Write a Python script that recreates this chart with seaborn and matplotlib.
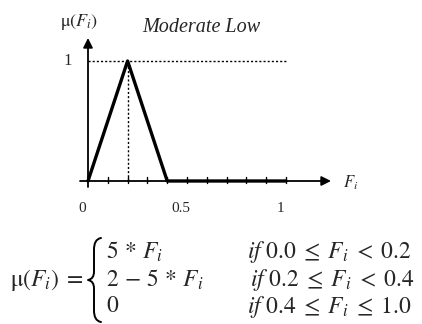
import numpy as np
import pandas as pd
import matplotlib
matplotlib.use("Agg")
import matplotlib.pyplot as plt
import matplotlib.transforms as mtransforms
from matplotlib.path import Path
from matplotlib.patches import PathPatch
import seaborn as sns

# Membership function "Moderate Low": breakpoints and grades
f_points = [0.0, 0.2, 0.4, 1.0]
mu_points = [0.0, 1.0, 0.0, 0.0]
tick_values = [0.0, 0.5, 1.0]
tick_labels = ["0", "0.5", "1"]
minor_ticks = [0.1, 0.2, 0.3, 0.4, 0.5, 0.6, 0.7, 0.8, 0.9, 1.0]
peak_grade = 1.0
peak_label = "1"
set_name = "Moderate Low"
formula_cases = [r"$5\, *\, F_i$", r"$2\, -\, 5\, *\, F_i$", r"$0$"]
formula_conditions = [r"$if\ 0.0\; \leq\; F_i\; <\; 0.2$",
                      r"$if\ 0.2\; \leq\; F_i\; <\; 0.4$",
                      r"$if\ 0.4\; \leq\; F_i\; \leq\; 1.0$"]

sns.set_theme(style="white")
plt.rcParams["font.family"] = ["Liberation Serif", "DejaVu Serif"]
plt.rcParams["mathtext.fontset"] = "stix"

W, H = 422, 324
fig = plt.figure(figsize=(W / 100, H / 100), dpi=100)
fig.patch.set_facecolor("white")

# Axes covering the whole canvas; limits chosen so that F=0..1 spans the drawn axis
ax = fig.add_axes([0, 0, 1, 1])
x0_px, x1_px = 88.0, 286.0
y0_px, y1_px = 181.0, 61.0
sx = (x1_px - x0_px)
sy = (y0_px - y1_px)
ax.set_xlim(-x0_px / sx, (W - x0_px) / sx)
ax.set_ylim(-(H - y0_px) / sy, y0_px / sy)
ax.axis("off")


def px(x, r):
    """Pixel position (column, row from top) to data coordinates."""
    return (x - x0_px) / sx, (y0_px - r) / sy


df = pd.DataFrame({"F": f_points, "mu": mu_points})

# Axes with arrowheads
ax.annotate("", xy=px(331, 181), xytext=px(80, 181),
            arrowprops=dict(arrowstyle="-|>", color="black", lw=1.3,
                            mutation_scale=14, shrinkA=0, shrinkB=0))
ax.annotate("", xy=px(88, 38), xytext=px(88, 187),
            arrowprops=dict(arrowstyle="-|>", color="black", lw=1.3,
                            mutation_scale=14, shrinkA=0, shrinkB=0))

# Small tick marks along the F axis
for t in minor_ticks:
    ax.plot([t, t], [-0.02, 0.03], color="black", lw=1.0)

# Dotted guides to the peak
ax.plot([0, 1.0], [peak_grade, peak_grade], color="black", lw=1.0,
        linestyle=(0, (1.5, 1.5)))
ax.plot([f_points[1], f_points[1]], [0, peak_grade], color="black", lw=1.0,
        linestyle=(0, (1.5, 1.5)))

# Membership function
sns.lineplot(data=df, x="F", y="mu", ax=ax, color="black", lw=2.4,
             sort=False, estimator=None)

# Labels
ax.text(*px(79, 22), r"$\mathrm{\mu}(F_i)$", fontsize=13, ha="center", va="center")
ax.text(*px(201, 28), set_name, fontsize=14.5, style="italic",
        ha="center", va="center")
ax.text(*px(68, 61), peak_label, fontsize=12, ha="center", va="center")
ax.text(*px(351, 183), r"$F_i$", fontsize=12, ha="center", va="center")

shift = mtransforms.offset_copy(ax.transData, fig=fig, x=-6, y=0, units="dots")
for v, lab in zip(tick_values, tick_labels):
    ax.text(v, px(0, 209)[1], lab, fontsize=11, ha="center", va="center",
            transform=shift)

# Piecewise definition
ax.text(*px(10, 280), r"$\mathrm{\mu}(F_i)\; =$", fontsize=17,
        ha="left", va="center")

# Curly brace drawn as a path
bx, btop, bmid, bbot = 94.0, 238.0, 280.0, 322.0
pts_px = [
    (101, btop), (96, btop + 1), (bx, btop + 5), (bx, btop + 12),
    (bx, bmid - 9),
    (bx, bmid - 3), (92, bmid - 1), (88, bmid),
    (92, bmid + 1), (bx, bmid + 3), (bx, bmid + 9),
    (bx, bbot - 12),
    (bx, bbot - 5), (96, bbot - 1), (101, bbot),
]
codes = [Path.MOVETO, Path.CURVE4, Path.CURVE4, Path.CURVE4,
         Path.LINETO,
         Path.CURVE4, Path.CURVE4, Path.CURVE4,
         Path.CURVE4, Path.CURVE4, Path.CURVE4,
         Path.LINETO,
         Path.CURVE4, Path.CURVE4, Path.CURVE4]
brace = Path([px(x, r) for x, r in pts_px], codes)
ax.add_patch(PathPatch(brace, facecolor="none", edgecolor="black", lw=1.4,
                       capstyle="round", joinstyle="round"))

rows = [252, 280, 307]
cond_x = [247, 250, 247]
for r, case, cond, cx in zip(rows, formula_cases, formula_conditions, cond_x):
    ax.text(*px(106, r), case, fontsize=17, ha="left", va="center")
    ax.text(*px(cx, r), cond, fontsize=17, ha="left", va="center")

fig.savefig("out.png", dpi=100)
